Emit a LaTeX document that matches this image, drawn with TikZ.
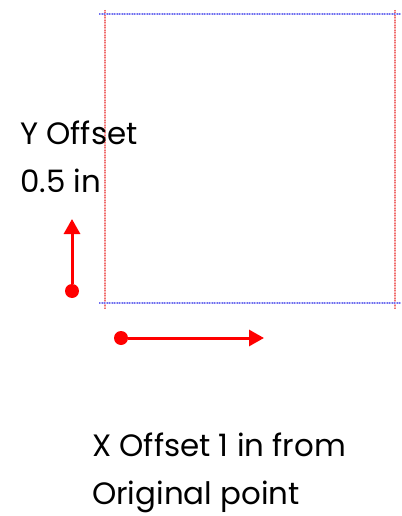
\documentclass[tikz,border=0pt]{standalone}
\usepackage{fontspec}
\setmainfont{Poppins}
\usepackage{xcolor}
\usetikzlibrary{arrows.meta,positioning}
\definecolor{guidered}{HTML}{F07070}
\definecolor{guideblue}{HTML}{7070F0}
\definecolor{offred}{HTML}{FF0000}

\begin{document}
\begin{tikzpicture}[x=1bp,y=-1bp,
  vguide/.style={guidered!45,line width=1.6bp,
    postaction={draw,guidered,line width=1.2bp,dash pattern=on 1bp off 1.5bp}},
  hguide/.style={guideblue!45,line width=1.6bp,
    postaction={draw,guideblue,line width=1.2bp,dash pattern=on 1bp off 1.5bp}},
  origin/.style={circle,fill=offred,inner sep=0pt,minimum size=14bp},
  offarrow/.style={offred,line width=3bp,-{Triangle[length=15bp,width=16bp]}},
  label/.style={font=\fontsize{31}{48}\selectfont,anchor=base west,inner sep=0pt}]
\useasboundingbox (0,0) rectangle (401,516);

% page margins as guides
\draw[vguide] (105,10) -- (105,308);
\draw[vguide] (395,10) -- (395,308);
\draw[hguide] (99,14) -- (401,14);
\draw[hguide] (99,303) -- (401,303);

% offsets
\node[origin] (ydot) at (72,291) {};
\coordinate (ytip) at (72,219);
\draw[offarrow] (ydot) -- (ytip);
\node[origin] (xdot) at (121,338) {};
\coordinate (xtip) at (264,338);
\draw[offarrow] (xdot) -- (xtip);

% labels
\node[label] (ylab) at (20,145) {Y Offset};
\node[label] (yval) at (20,193) {0.5 in};
\node[label] (xlab) at (92,456) {X Offset 1 in from};
\node[label] (xval) at (92,504) {Original point};
\end{tikzpicture}
\end{document}
